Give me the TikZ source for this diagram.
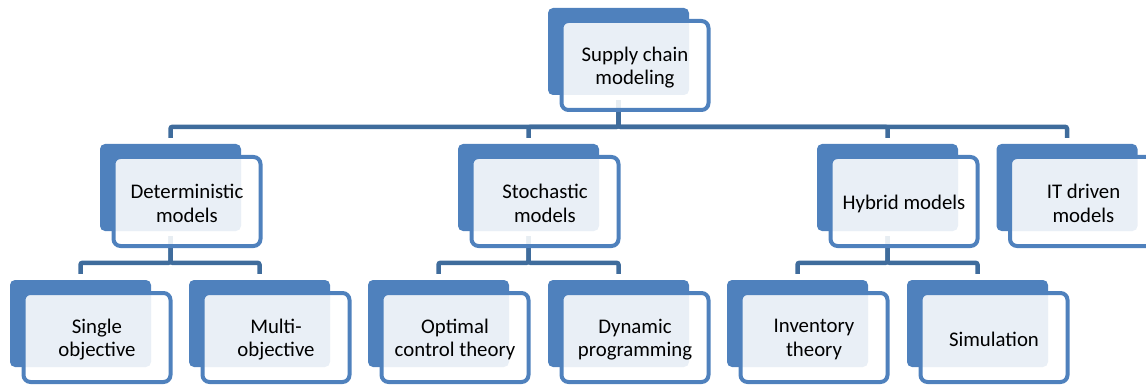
\documentclass[tikz,border=0pt]{standalone}
\usepackage{fontspec}
\setmainfont{Carlito}
\usetikzlibrary{calc}
\definecolor{boxblue}{RGB}{79,129,189}
\definecolor{linkblue}{RGB}{63,108,156}
\tikzset{
  backbox/.style={rectangle, rounded corners=5pt, fill=boxblue, draw=none,
    minimum width=141pt, minimum height=87pt, inner sep=0pt},
  frontbox/.style={rectangle, rounded corners=7pt, draw=boxblue, line width=4pt,
    fill=white, fill opacity=0.88, text opacity=1,
    minimum width=147pt, minimum height=89pt, inner sep=0pt},
  boxtext/.style={align=center, inner sep=0pt, yshift=-2pt,
    font=\fontsize{20.8}{23.5}\selectfont},
  link/.style={draw=linkblue, line width=4.5pt, rounded corners=2pt},
}
\begin{document}
\begin{tikzpicture}[x=1pt, y=-1pt]
\useasboundingbox (0,0) rectangle (1146,385);
\clip (0,0) rectangle (1146,385);

% solid back panels
\node[backbox] (top) at (618.5,51.5) {};
\node[backbox] (det) at (170.5,187.5) {};
\node[backbox] (sto) at (528.5,187.5) {};
\node[backbox] (hyb) at (887.5,187.5) {};
\node[backbox] (itd) at (1067,187.5) {};
\node[backbox] (sgl) at (80.5,323.5) {};
\node[backbox] (mul) at (259.5,323.5) {};
\node[backbox] (opt) at (438.5,323.5) {};
\node[backbox] (dyn) at (618.5,323.5) {};
\node[backbox] (inv) at (797.5,323.5) {};
\node[backbox] (sim) at (977.5,323.5) {};

% elbow connectors: down from the parent, along the bus, down to the child
\foreach \c in {det,sto,hyb,itd}
  \draw[link] ($(top.south)+(0,5)$) |- ($(\c.north)+(0,-17)$) -- ($(\c.north)+(0,-6)$);
\foreach \p/\c in {det/sgl,det/mul,sto/opt,sto/dyn,hyb/inv,hyb/sim}
  \draw[link] ($(\p.south)+(0,5)$) |- ($(\c.north)+(0,-17)$) -- ($(\c.north)+(0,-6)$);

% outlined front panels carrying the labels
\node[frontbox] (topF) at ($(top)+(16.5,14)$) {};
\node[frontbox] (detF) at ($(det)+(16.5,14)$) {};
\node[frontbox] (stoF) at ($(sto)+(16.5,14)$) {};
\node[frontbox] (hybF) at ($(hyb)+(16.5,14)$) {};
\node[frontbox] (itdF) at ($(itd)+(16.5,14)$) {};
\node[frontbox] (sglF) at ($(sgl)+(16.5,14)$) {};
\node[frontbox] (mulF) at ($(mul)+(16.5,14)$) {};
\node[frontbox] (optF) at ($(opt)+(16.5,14)$) {};
\node[frontbox] (dynF) at ($(dyn)+(16.5,14)$) {};
\node[frontbox] (invF) at ($(inv)+(16.5,14)$) {};
\node[frontbox] (simF) at ($(sim)+(16.5,14)$) {};

\node[boxtext] (topT) at (topF) {Supply chain\\modeling};
\node[boxtext] (detT) at (detF) {Deterministic\\models};
\node[boxtext] (stoT) at (stoF) {Stochastic\\models};
\node[boxtext] (hybT) at (hybF) {Hybrid models};
\node[boxtext] (itdT) at (itdF) {IT driven\\models};
\node[boxtext] (sglT) at (sglF) {Single\\objective};
\node[boxtext] (mulT) at (mulF) {Multi-\\objective};
\node[boxtext] (optT) at (optF) {Optimal\\control theory};
\node[boxtext] (dynT) at (dynF) {Dynamic\\programming};
\node[boxtext] (invT) at (invF) {Inventory\\theory};
\node[boxtext] (simT) at (simF) {Simulation};
\end{tikzpicture}
\end{document}
